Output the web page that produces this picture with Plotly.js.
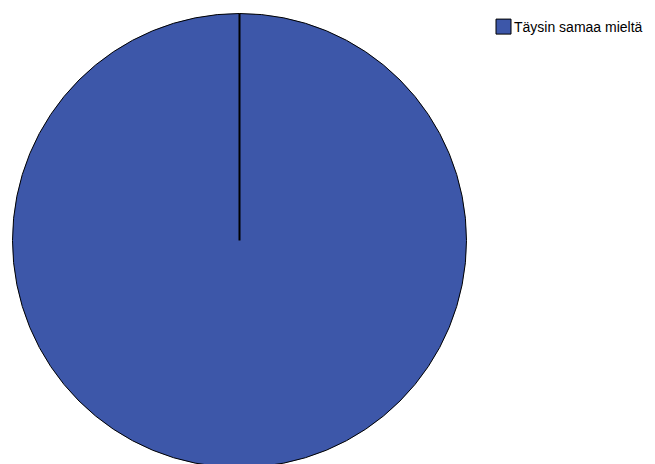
<!DOCTYPE html>
<html>
<head>
<meta charset="utf-8">
<script src="https://cdn.plot.ly/plotly-3.0.1.min.js"></script>
<style>
html,body{margin:0;padding:0;overflow:hidden;background:#fff;}
#chart{width:700px;height:470px;}
</style>
</head>
<body>
<div id="chart"></div>
<script>
const categories = ["Täysin samaa mieltä"];
const values = [100];
const colors = ["#3d57a9"];

const W = 700, H = 470;
const cx = 239.5, cy = 240.5, r = 227;

const trace = {
  type: "pie",
  labels: categories,
  values: values,
  sort: false,
  direction: "clockwise",
  rotation: 0,
  textinfo: "none",
  hoverinfo: "label+percent",
  marker: {colors: colors, line: {color: "#000", width: 1}},
  domain: {x: [(cx - r) / W, (cx + r) / W], y: [1 - (cy + r) / H, 1 - (cy - r) / H]},
  showlegend: true
};

const layout = {
  width: W, height: H,
  margin: {l: 0, r: 0, t: 0, b: 0},
  paper_bgcolor: "#fff",
  font: {family: "Liberation Sans, Arial, sans-serif", size: 14, color: "#000"},
  showlegend: true,
  legend: {x: 483.5 / W, y: 1 - 11 / H, xanchor: "left", yanchor: "top", bgcolor: "rgba(0,0,0,0)", font: {size: 14}},
  shapes: [{
    type: "line", xref: "paper", yref: "paper",
    x0: cx / W, x1: cx / W, y0: 1 - cy / H, y1: 1 - (cy - r) / H,
    line: {color: "#000", width: 2}
  }]
};

Plotly.newPlot("chart", [trace], layout, {displayModeBar: false, staticPlot: true}).then(function (gd) {
  // tighten legend entry to match the reference (bigger square, small gap before text)
  gd.querySelectorAll(".legend .legendpoints path").forEach(function (p) {
    p.setAttribute("d", "M7.5,7.5H-7.5V-7.5H7.5Z");
  });
  gd.querySelectorAll(".legend .legendtext").forEach(function (t) {
    t.setAttribute("x", "30.5");
  });
});
</script>
</body>
</html>
